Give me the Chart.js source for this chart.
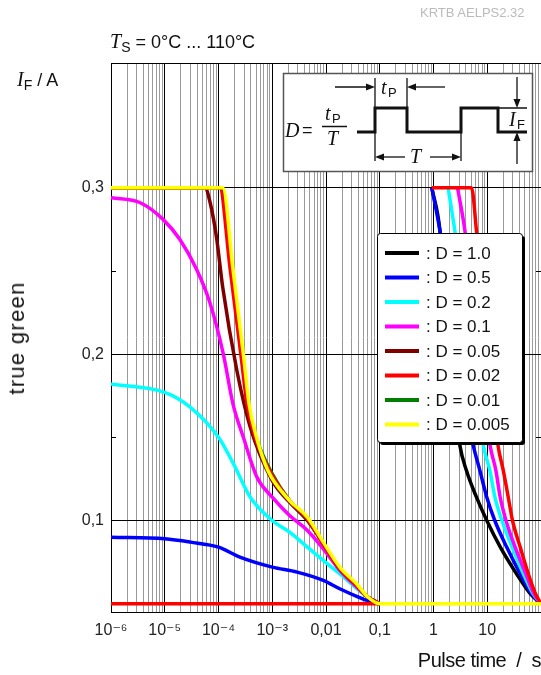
<!DOCTYPE html>
<html>
<head>
<meta charset="utf-8">
<script src="https://cdn.jsdelivr.net/npm/chart.js@4.4.0/dist/chart.umd.min.js"></script>
<style>
  html, body { margin: 0; padding: 0; background: #fff; }
  #wrap { position: relative; width: 541px; height: 675px; font-family: "Liberation Sans", Arial, sans-serif; color: #111; }
  canvas { position: absolute; left: 0; top: 0; }
  .note { position: absolute; white-space: nowrap; line-height: 1; }
  .it { font-family: "Liberation Serif", "DejaVu Serif", serif; font-style: italic; }
  .sub { font-size: 0.78em; position: relative; top: 0.3em; }
  #code { left: 420px; top: 6px; font-size: 13px; color: #bbb; }
  #title { left: 110px; top: 31px; font-size: 18px; }
  #title .it { font-size: 20px; }
  #unit { left: 17px; top: 69px; font-size: 18px; }
  #unit .it { font-size: 20px; }
  #yname { left: 17px; top: 338px; font-size: 22px; transform: translate(-50%, -50%) rotate(-90deg); letter-spacing: 1.3px; }
  #xname { right: 0px; top: 650px; font-size: 20px; letter-spacing: -0.5px; }
</style>
</head>
<body>
<div id="wrap">
  <canvas id="chart" width="541" height="675"></canvas>
  <div class="note" id="code">KRTB AELPS2.32</div>
  <div class="note" id="title"><span class="it">T</span><span class="sub">S</span> = 0°C ... 110°C</div>
  <div class="note" id="unit"><span class="it">I</span><span class="sub">F</span> / A</div>
  <div class="note" id="yname">true green</div>
  <div class="note" id="xname">Pulse time&nbsp; / &nbsp;s</div>
</div>
<script>
// axis ticks
const xTicks = [1e-6, 1e-5, 1e-4, 1e-3, 0.01, 0.1, 1, 10, 100];
const xTickLabels = ["10⁻⁶", "10⁻⁵", "10⁻⁴", "10⁻³", "0,01", "0,1", "1", "10", ""];
const yTicks = [0.1, 0.15, 0.2, 0.25, 0.3];
const yTickLabels = ["0,1", "", "0,2", "", "0,3"];

// duty cycles (legend order)
const dutyLabels = [": D = 1.0", ": D = 0.5", ": D = 0.2", ": D = 0.1", ": D = 0.05", ": D = 0.02", ": D = 0.01", ": D = 0.005"];
const dutyColors = ["#000000", "#0000ff", "#00ffff", "#ff00ff", "#800000", "#ff0000", "#008000", "#ffff00"];

// curves as [pulse time s, I_F A]; null splits a curve into pieces
const seriesD1 = [
  [0.93, 0.3], [1.32, 0.274], [1.8, 0.215], [2.4, 0.175], [3.1, 0.145], [4.1, 0.13], [6.3, 0.114],
  [9.8, 0.1], [17.5, 0.084], [35, 0.068], [63, 0.056], [100, 0.05]
];
const seriesD05 = [
  [1e-6, 0.09], [1e-5, 0.089], [3e-5, 0.087], [1e-4, 0.084], [2.5e-4, 0.078], [1e-3, 0.072], [2.9e-3, 0.069],
  [8.9e-3, 0.064], [0.018, 0.059], [0.04, 0.054], [0.07, 0.051], [0.1, 0.05],
  null,
  [0.93, 0.3], [1.32, 0.274], [2.2, 0.222], [3.5, 0.178], [5.5, 0.145], [7.3, 0.13], [9.8, 0.114],
  [13.8, 0.1], [23, 0.084], [41, 0.068], [67, 0.056], [100, 0.05]
];
const seriesD02 = [
  [1e-6, 0.182], [1e-5, 0.177], [3e-5, 0.168], [1e-4, 0.15], [1.9e-4, 0.134], [3.9e-4, 0.114], [1e-3, 0.1],
  [2.1e-3, 0.093], [4.5e-3, 0.084], [8.9e-3, 0.076], [0.018, 0.068], [0.054, 0.055], [0.1, 0.05],
  null,
  [1.87, 0.3], [2.5, 0.274], [3.9, 0.228], [5.8, 0.185], [8.5, 0.145], [11.2, 0.13], [13.9, 0.114],
  [18.7, 0.1], [29, 0.084], [47, 0.068], [71, 0.056], [100, 0.05]
];
const seriesD01 = [
  [1e-6, 0.294], [3.5e-6, 0.291], [9.3e-6, 0.281], [1.9e-5, 0.269], [3.9e-5, 0.251], [6.9e-5, 0.231],
  [1.23e-4, 0.2], [1.86e-4, 0.17], [2.9e-4, 0.15], [5.2e-4, 0.126], [1e-3, 0.114], [2.1e-3, 0.103],
  [4.5e-3, 0.094], [8.9e-3, 0.083], [0.018, 0.07], [0.037, 0.06], [0.06, 0.054], [0.1, 0.05],
  null,
  [2.8, 0.3], [3.85, 0.274], [5.6, 0.228], [7.9, 0.185], [11.3, 0.145], [14.5, 0.13], [17.4, 0.114],
  [22.3, 0.1], [33, 0.084], [52, 0.068], [74, 0.056], [100, 0.05]
];
const seriesD005 = [
  [1e-6, 0.3], [5.6e-5, 0.3], [7e-5, 0.291], [9.2e-5, 0.27], [1.2e-4, 0.24], [2.2e-4, 0.19], [3.9e-4, 0.156],
  [1e-3, 0.124], [2.1e-3, 0.111], [4.5e-3, 0.1], [8.9e-3, 0.086], [0.018, 0.071], [0.037, 0.061],
  [0.06, 0.054], [0.1, 0.05]
];
const seriesD002 = [
  [1e-6, 0.05], [0.1, 0.05],
  null,
  [1e-6, 0.3], [1.05e-4, 0.3], [1.65e-4, 0.251], [2.6e-4, 0.2], [3.4e-4, 0.17], [4.8e-4, 0.15], [1e-3, 0.127],
  [2.1e-3, 0.112], [4.5e-3, 0.101], [8.9e-3, 0.086], [0.018, 0.071], [0.037, 0.061], [0.06, 0.054], [0.1, 0.05],
  null,
  [0.93, 0.3], [5.1, 0.3], [6.3, 0.274], [8.6, 0.228], [11.6, 0.185], [15.9, 0.145], [19.9, 0.13],
  [24.6, 0.114], [29.5, 0.1], [41, 0.084], [58, 0.068], [79, 0.056], [100, 0.05]
];
const seriesD001 = [
  [1e-6, 0.3], [1.1e-4, 0.3], [1.75e-4, 0.251], [2.75e-4, 0.2], [3.55e-4, 0.17], [5e-4, 0.15], [1e-3, 0.128],
  [2.1e-3, 0.112], [4.5e-3, 0.101], [8.9e-3, 0.086], [0.018, 0.071], [0.037, 0.061], [0.06, 0.054], [0.1, 0.05]
];
const seriesD0005 = [
  [1e-6, 0.3], [1.2e-4, 0.3], [1.86e-4, 0.251], [2.9e-4, 0.2], [3.7e-4, 0.17], [5.1e-4, 0.15], [8.3e-4, 0.13],
  [2.1e-3, 0.112], [4.5e-3, 0.102], [8.9e-3, 0.087], [0.018, 0.072], [0.037, 0.062], [0.06, 0.054],
  [0.1, 0.05], [100, 0.05]
];

const allSeries = [seriesD1, seriesD05, seriesD02, seriesD01, seriesD005, seriesD002, seriesD001, seriesD0005];
// which curve lies on top (lower = on top)
const drawOrder = [7, 6, 5, 4, 3, 1, 2, 0];

const FONT = "'Liberation Sans', Arial, 'DejaVu Sans', sans-serif";
const SERIF = "'Liberation Serif', 'DejaVu Serif', serif";

function toPoints(arr) {
  let lastX = 1e-6;
  return arr.map((p) => {
    if (!p) return { x: lastX, y: null };
    lastX = p[0];
    return { x: p[0], y: p[1] };
  });
}

function sameValue(a, b) {
  return Math.abs(Math.log10(a) - Math.log10(b)) < 1e-6;
}

// vertical grid: 1..9 per decade
const gridX = [];
for (let d = -6; d < 2; d++) {
  for (let m = 1; m < 10; m++) gridX.push(m * Math.pow(10, d));
}
gridX.push(100);

function arrow(ctx, x1, y1, x2, y2) {
  const a = Math.atan2(y2 - y1, x2 - x1);
  ctx.beginPath();
  ctx.moveTo(x1, y1);
  ctx.lineTo(x2 - 7 * Math.cos(a), y2 - 7 * Math.sin(a));
  ctx.stroke();
  ctx.beginPath();
  ctx.moveTo(x2, y2);
  ctx.lineTo(x2 - 9 * Math.cos(a) + 3.5 * Math.sin(a), y2 - 9 * Math.sin(a) - 3.5 * Math.cos(a));
  ctx.lineTo(x2 - 9 * Math.cos(a) - 3.5 * Math.sin(a), y2 - 9 * Math.sin(a) + 3.5 * Math.cos(a));
  ctx.closePath();
  ctx.fill();
}

const framePlugin = {
  id: "frame",
  afterDatasetsDraw(chart) {
    const { ctx, chartArea: a, scales } = chart;
    ctx.save();
    ctx.strokeStyle = "#000";
    ctx.lineWidth = 1;
    ctx.beginPath();
    ctx.moveTo(a.left, a.top + 0.5);
    ctx.lineTo(a.right, a.top + 0.5);
    ctx.stroke();
    // small inside ticks for the unlabelled y values
    yTicks.forEach((v, i) => {
      if (yTickLabels[i]) return;
      const y = Math.round(scales.y.getPixelForValue(v)) + 0.5;
      ctx.beginPath();
      ctx.moveTo(a.left, y);
      ctx.lineTo(a.left + 5, y);
      ctx.moveTo(a.right, y);
      ctx.lineTo(a.right - 5, y);
      ctx.stroke();
    });
    ctx.restore();
  },
};

const insetPlugin = {
  id: "inset",
  afterDatasetsDraw(chart) {
    const ctx = chart.ctx;
    ctx.save();
    ctx.fillStyle = "#fff";
    ctx.fillRect(283, 73, 250, 99);
    ctx.strokeStyle = "#555";
    ctx.lineWidth = 1.5;
    ctx.strokeRect(283.5, 73.5, 249, 98);

    ctx.strokeStyle = "#111";
    ctx.fillStyle = "#111";
    // pulse train
    ctx.lineWidth = 3;
    ctx.lineJoin = "miter";
    ctx.beginPath();
    ctx.moveTo(357, 132);
    ctx.lineTo(375, 132); ctx.lineTo(375, 108); ctx.lineTo(407, 108); ctx.lineTo(407, 132);
    ctx.lineTo(461, 132); ctx.lineTo(461, 108); ctx.lineTo(498, 108); ctx.lineTo(498, 132);
    ctx.lineTo(527, 132);
    ctx.stroke();

    ctx.lineWidth = 1.3;
    ctx.beginPath();
    ctx.moveTo(498, 108); ctx.lineTo(527, 108);
    ctx.moveTo(375, 78); ctx.lineTo(375, 108);
    ctx.moveTo(407, 78); ctx.lineTo(407, 108);
    ctx.moveTo(375, 132); ctx.lineTo(375, 161);
    ctx.moveTo(461, 132); ctx.lineTo(461, 161);
    ctx.stroke();

    arrow(ctx, 335, 87, 375, 87);
    arrow(ctx, 445, 87, 407, 87);
    arrow(ctx, 405, 157, 375, 157);
    arrow(ctx, 430, 157, 461, 157);
    arrow(ctx, 517, 77, 517, 108);
    arrow(ctx, 517, 164, 517, 132);

    ctx.textBaseline = "middle";
    ctx.textAlign = "left";
    ctx.font = "italic 20px " + SERIF;
    ctx.fillText("t", 381, 89);
    ctx.fillText("T", 410, 158);
    ctx.fillText("I", 509, 121);
    ctx.fillText("D", 285, 132);
    ctx.fillText("t", 325, 115);
    ctx.fillText("T", 327, 140);
    ctx.font = "13px " + FONT;
    ctx.fillText("P", 388, 93);
    ctx.fillText("F", 517, 125);
    ctx.fillText("P", 332, 119);
    ctx.font = "18px " + FONT;
    ctx.fillText("=", 302, 131);
    ctx.lineWidth = 1.5;
    ctx.beginPath();
    ctx.moveTo(322, 126.5); ctx.lineTo(347, 126.5);
    ctx.stroke();
    ctx.restore();
  },
};

const legendPlugin = {
  id: "boxLegend",
  afterDraw(chart) {
    const ctx = chart.ctx;
    const x = 377, y = 233, w = 145, h = 209;
    ctx.save();
    ctx.fillStyle = "#000";
    ctx.beginPath();
    ctx.roundRect(x + 3, y + 3, w, h, 3);
    ctx.fill();
    ctx.fillStyle = "#fff";
    ctx.strokeStyle = "#000";
    ctx.lineWidth = 1;
    ctx.beginPath();
    ctx.roundRect(x + 0.5, y + 0.5, w, h, 3);
    ctx.fill();
    ctx.stroke();
    ctx.font = "17px " + FONT;
    ctx.textBaseline = "middle";
    dutyLabels.forEach((label, i) => {
      const ry = 253 + i * 24.5;
      ctx.strokeStyle = dutyColors[i];
      ctx.lineWidth = 4;
      ctx.beginPath();
      ctx.moveTo(385, ry);
      ctx.lineTo(419, ry);
      ctx.stroke();
      ctx.fillStyle = "#111";
      ctx.fillText(label, 426, ry + 1);
    });
    ctx.restore();
  },
};

new Chart(document.getElementById("chart"), {
  type: "line",
  data: {
    datasets: allSeries.map((s, i) => ({
      label: dutyLabels[i],
      data: toPoints(s),
      borderColor: dutyColors[i],
      borderWidth: 3.5,
      pointRadius: 0,
      fill: false,
      spanGaps: false,
      cubicInterpolationMode: "monotone",
      order: drawOrder[i],
    })),
  },
  options: {
    responsive: false,
    animation: false,
    events: [],
    layout: { padding: { top: 63, right: 0, left: 0, bottom: 0 } },
    plugins: { legend: { display: false }, tooltip: { enabled: false } },
    scales: {
      x: {
        type: "logarithmic",
        min: 1e-6,
        max: 100,
        afterBuildTicks: (s) => { s.ticks = gridX.map((v) => ({ value: v })); },
        afterFit: (s) => {
          s.height = 63;
          s.paddingLeft = 0;
          s.paddingRight = 0;
        },
        grid: {
          color: (c) => (xTicks.some((t) => sameValue(t, c.tick.value)) ? "#000" : "#9a9a9a"),
          lineWidth: 1,
          drawTicks: false,
        },
        border: { display: true, color: "#000", width: 1 },
        ticks: {
          autoSkip: false,
          maxRotation: 0,
          padding: 9,
          color: "#222",
          font: { family: FONT, size: 16 },
          callback: (v) => {
            const i = xTicks.findIndex((t) => sameValue(t, v));
            return i < 0 ? "" : xTickLabels[i];
          },
        },
      },
      y: {
        min: 0.045,
        max: 0.375,
        afterBuildTicks: (s) => { s.ticks = yTicks.map((v) => ({ value: v })); },
        afterFit: (s) => {
          s.width = 111;
          s.paddingTop = 0;
          s.paddingBottom = 0;
        },
        grid: {
          color: (c) => (yTickLabels[c.index] ? "#000" : "rgba(0,0,0,0)"),
          lineWidth: 1,
          drawTicks: false,
        },
        border: { display: true, color: "#000", width: 1 },
        ticks: {
          padding: 7,
          color: "#222",
          font: { family: FONT, size: 16 },
          callback: (v, i) => yTickLabels[i],
        },
      },
    },
  },
  plugins: [framePlugin, insetPlugin, legendPlugin],
});
</script>
</body>
</html>
